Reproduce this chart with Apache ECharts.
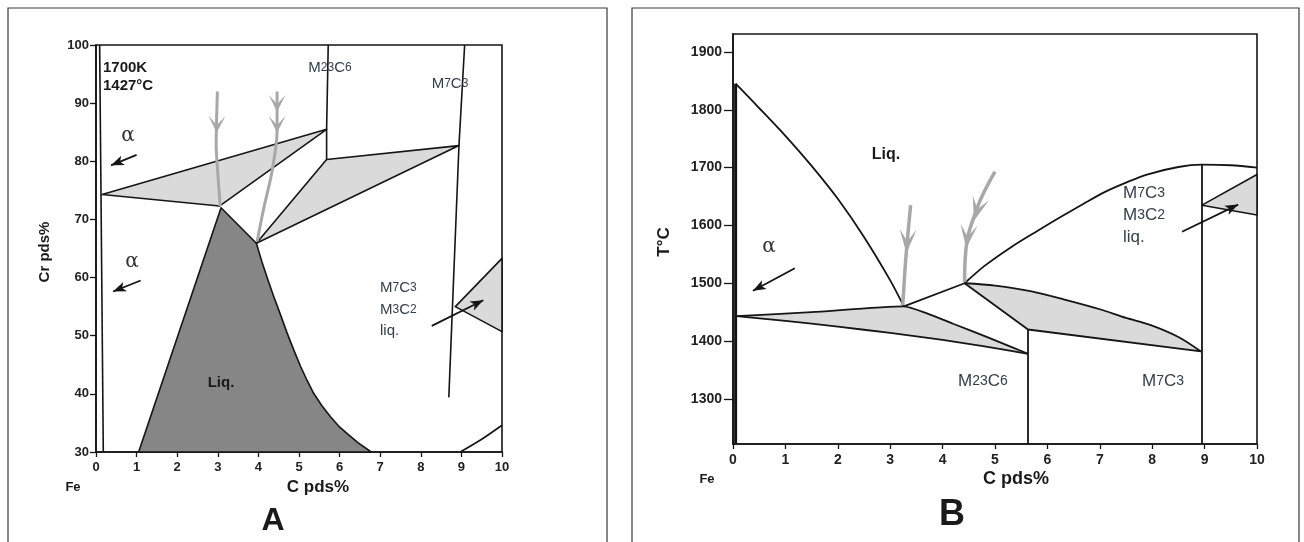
<!DOCTYPE html>
<html><head><meta charset="utf-8">
<script src="https://cdn.jsdelivr.net/npm/echarts@6/dist/echarts.min.js"></script>
<style>html,body{margin:0;padding:0;background:#fff}#c{width:1304px;height:542px}</style>
</head><body><div id="c"></div>
<script>
// ---------- Panel A (C pds% vs Cr pds%, 1700K) ----------
const xTicks = [0,1,2,3,4,5,6,7,8,9,10];
const aYTicks = [30,40,50,60,70,80,90,100];
const aAlphaLine = [[0.09,100],[0.18,30]];
const aTri1 = [[0.15,74.3],[5.68,85.5],[3.04,72.3]];
const aM23C6Line = [[5.72,100],[5.68,85.5],[5.68,80.3]];
const aTri2 = [[5.68,80.3],[8.94,82.7],[3.95,65.9]];
const aM7C3Line = [[9.08,100],[8.94,82.7],[8.69,39.4]];
const aLiq = [[3.08,72.0],[3.95,65.9],[4.10,62.4],[4.24,59.5],[4.38,56.7],[4.55,53.5],[4.71,50.4],[4.88,47.4],[5.04,44.7],[5.20,42.3],[5.36,40.1],[5.56,38.0],[5.77,36.1],[5.97,34.5],[6.18,33.2],[6.45,31.6],[6.78,30.0],[1.05,30.0]];
const aRightTri = [[8.85,55.0],[10,63.3],[10,50.7]];
const aRightCurve = [[8.97,30],[9.5,32.2],[10,34.6]];
const aGrayArrow1 = [[2.99,92],[2.97,87],[2.96,83],[3.0,78],[3.06,72.3]];
const aGrayArrow1Heads = [[[2.97,84.9],[2.98,88]]];
const aGrayArrow2 = [[4.46,92],[4.46,85.4],[4.40,81],[4.30,77],[4.14,72.2],[3.97,66.2]];
const aGrayArrow2Heads = [[[4.46,88.5],[4.46,91.5]],[[4.46,84.9],[4.46,88]]];
const aBlackArrows = [[[1.0,81.1],[0.37,79.3]],[[1.1,59.5],[0.42,57.6]],[[8.27,51.7],[9.54,56.1]]];

// ---------- Panel B (C pds% vs T°C) ----------
const bYTicks = [1300,1400,1500,1600,1700,1800,1900];
const bAlphaLine = [[0.05,1222],[0.05,1845]];
const bLiqLeft = [[0.05,1845],[0.5,1803],[1.0,1755],[1.5,1703],[2.0,1646],[2.5,1580],[3.0,1505],[3.26,1460]];
const bEutLink = [[3.26,1460],[4.42,1500]];
const bLiqRight = [[4.42,1500],[4.8,1530],[5.3,1562],[5.8,1590],[6.3,1617],[6.7,1638],[7.1,1658],[7.5,1674],[7.9,1688],[8.5,1701],[8.95,1705],[9.5,1704],[10,1700]];
const bLens1Upper = [[0.07,1443],[1.5,1450],[3.26,1460],[3.7,1448],[4.2,1430],[4.9,1405],[5.63,1378]];
const bLens1Lower = [[0.07,1443],[1.0,1435],[2.0,1425],[3.0,1414],[4.0,1402],[4.8,1391],[5.63,1378]];
const bLens2Upper = [[4.42,1500],[5.0,1496],[5.7,1486],[6.4,1470],[7.0,1455],[7.5,1440],[7.96,1428],[8.5,1407],[8.93,1382]];
const bLens2Lower = [[4.42,1500],[5.63,1420],[8.93,1382]];
const bVert1 = [[5.63,1222],[5.63,1420]];
const bVert2 = [[8.95,1222],[8.95,1705]];
const bRightTri = [[8.95,1635],[10,1688],[10,1618]];
const bGrayArrow1 = [[3.39,1635],[3.3,1545],[3.24,1462]];
const bGrayArrow1Heads = [[[3.31,1552],[3.34,1592]]];
const bGrayArrow2 = [[5.0,1693],[4.75,1650],[4.6,1615],[4.48,1580],[4.43,1540],[4.42,1502]];
const bGrayArrow2Heads = [[[4.6,1608],[4.72,1645]],[[4.45,1560],[4.5,1598]]];
const bBlackArrows = [[[1.18,1526],[0.38,1487]],[[8.57,1589],[9.64,1636]]];

const INK = '#151515', LIGHT = '#dadada', DARK = '#868686', GRAYARROW = '#a8a8a8';

function lineS(data, g, width, color, smooth) {
  return {type:'line', xAxisIndex:g, yAxisIndex:g, data, symbol:'none', showSymbol:false, silent:true,
    smooth: smooth || false, lineStyle:{color: color || INK, width: width || 1.6}, z:5, clip:false, animation:false};
}
function polyS(points, g, fill, stroke, z) {
  return {type:'custom', xAxisIndex:g, yAxisIndex:g, data: points, clip:false, silent:true, z: z || 3, animation:false,
    renderItem(params, api) {
      if (params.dataIndex !== 0) return null;
      const pts = points.map(p => api.coord(p));
      return {type:'polygon', shape:{points:pts}, style:{fill, stroke: stroke || 'none', lineWidth:1.6, lineJoin:'round'}};
    }};
}
function headPoly(tip, back, w, L, notch) {
  const dx = back[0]-tip[0], dy = back[1]-tip[1];
  const len = Math.hypot(dx,dy) || 1;
  const ux = dx/len, uy = dy/len, px = -uy, py = ux;
  return [tip,
    [tip[0]+ux*L+px*w/2, tip[1]+uy*L+py*w/2],
    [tip[0]+ux*L*notch, tip[1]+uy*L*notch],
    [tip[0]+ux*L-px*w/2, tip[1]+uy*L-py*w/2]];
}
function headsS(heads, g, color, w, L, notch) {
  return {type:'custom', xAxisIndex:g, yAxisIndex:g, data: heads.map(h => h[0]), clip:false, silent:true, z:7, animation:false,
    renderItem(params, api) {
      const h = heads[params.dataIndex];
      const tip = api.coord(h[0]), back = api.coord(h[1]);
      return {type:'polygon', shape:{points: headPoly(tip, back, w, L, notch)}, style:{fill: color}};
    }};
}
function blackArrowS(arrows, g) {
  return {type:'custom', xAxisIndex:g, yAxisIndex:g, data: arrows.map(a => a[1]), clip:false, silent:true, z:8, animation:false,
    renderItem(params, api) {
      const a = arrows[params.dataIndex];
      const s = api.coord(a[0]), t = api.coord(a[1]);
      return {type:'group', children:[
        {type:'line', shape:{x1:s[0], y1:s[1], x2:t[0], y2:t[1]}, style:{stroke:INK, lineWidth:1.8}},
        {type:'polygon', shape:{points: headPoly(t, s, 10, 13, 0.75)}, style:{fill:INK}}
      ]};
    }};
}

const axisLine = {show:true, onZero:false, lineStyle:{color:INK, width:1.6}};
const tick = (len, vals) => ({show:true, inside:false, length:len, customValues:vals, lineStyle:{color:INK, width:1.3}});
const lbl = (size, margin, vals) => ({fontFamily:'Liberation Sans, Arial, sans-serif', fontWeight:'bold', fontSize:size, color:'#222', margin, customValues:vals, formatter: v => String(v)});

const option = {
  animation:false,
  backgroundColor:'#fff',
  grid:[
    {left:96, top:45, width:406, height:407, show:true, borderColor:INK, borderWidth:1.6, backgroundColor:'transparent'},
    {left:733, top:34, width:524, height:410, show:true, borderColor:INK, borderWidth:1.6, backgroundColor:'transparent'}
  ],
  xAxis:[
    {type:'value', gridIndex:0, min:0, max:10, interval:1, axisLine, splitLine:{show:false}, axisTick:tick(5,xTicks), axisLabel:lbl(13,9,xTicks)},
    {type:'value', gridIndex:1, min:0, max:10, interval:1, axisLine, splitLine:{show:false}, axisTick:tick(5,xTicks), axisLabel:lbl(14,9,xTicks)}
  ],
  yAxis:[
    {type:'value', gridIndex:0, min:30, max:100, interval:10, axisLine, splitLine:{show:false}, axisTick:tick(6,aYTicks), axisLabel:lbl(13,7,aYTicks)},
    {type:'value', gridIndex:1, min:1222, max:1931, axisLine, splitLine:{show:false}, axisTick:tick(9,bYTicks), axisLabel:lbl(14,11,bYTicks)}
  ],
  series:[
    // Panel A
    polyS(aLiq, 0, DARK, INK, 2),
    polyS(aTri1, 0, LIGHT, INK, 3),
    polyS(aTri2, 0, LIGHT, INK, 3),
    polyS(aRightTri, 0, LIGHT, INK, 3),
    lineS(aAlphaLine, 0, 1.6),
    lineS(aM23C6Line, 0, 1.6),
    lineS(aM7C3Line, 0, 1.6),
    lineS(aRightCurve, 0, 1.6, INK, 0.3),
    lineS(aGrayArrow1, 0, 3, GRAYARROW, 0.4),
    lineS(aGrayArrow2, 0, 3, GRAYARROW, 0.4),
    headsS(aGrayArrow1Heads, 0, GRAYARROW, 17, 17, 0.45),
    headsS(aGrayArrow2Heads, 0, GRAYARROW, 17, 17, 0.45),
    blackArrowS(aBlackArrows, 0),
    // Panel B
    polyS(bLens1Upper.concat(bLens1Lower.slice().reverse()), 1, LIGHT, 'none', 2),
    polyS(bLens2Upper.concat(bLens2Lower.slice().reverse()), 1, LIGHT, 'none', 2),
    polyS(bRightTri, 1, LIGHT, INK, 3),
    lineS(bAlphaLine, 1, 3),
    lineS(bLiqLeft, 1, 1.8, INK, 0.3),
    lineS(bEutLink, 1, 1.8),
    lineS(bLiqRight, 1, 1.8, INK, 0.3),
    lineS(bLens1Upper, 1, 1.8, INK, 0.2),
    lineS(bLens1Lower, 1, 1.8, INK, 0.2),
    lineS(bLens2Upper, 1, 1.8, INK, 0.3),
    lineS(bLens2Lower, 1, 1.8),
    lineS(bVert1, 1, 1.8),
    lineS(bVert2, 1, 1.8),
    lineS(bGrayArrow1, 1, 3.5, GRAYARROW, 0.3),
    lineS(bGrayArrow2, 1, 3.5, GRAYARROW, 0.4),
    headsS(bGrayArrow1Heads, 1, GRAYARROW, 17, 24, 0.5),
    headsS(bGrayArrow2Heads, 1, GRAYARROW, 17, 24, 0.5),
    blackArrowS(bBlackArrows, 1)
  ],
  graphic:[]
};

const F = 'Liberation Sans, Arial, Helvetica, sans-serif';
const LBL = '#34414a';
function txt(x, y, text, size, opts) {
  return {type:'text', x, y, silent:true, z:20, style:Object.assign({text, fontFamily:F, fontSize:size, fill:'#1a1a1a', textVerticalAlign:'middle', textAlign:'left'}, opts||{})};
}
function carbide(x, y, parts, size, align) {
  const rich = {a:{fontFamily:F, fontSize:size, fill:LBL, color:LBL}, s:{fontFamily:F, fontSize:Math.round(size*0.82), fill:LBL, color:LBL}};
  const t = parts.map((p,i) => (i%2===0 ? '{a|'+p+'}' : '{s|'+p+'}')).join('');
  return {type:'text', x, y, silent:true, z:20, style:{text:t, rich, textVerticalAlign:'middle', textAlign:align||'left', fontFamily:F, fontSize:size, fill:LBL}};
}
option.graphic = [
  {type:'polyline', silent:true, shape:{points:[[8,542],[8,8],[607,8],[607,542]]}, style:{stroke:'#3a3a3a', lineWidth:1.2, fill:'none'}},
  {type:'polyline', silent:true, shape:{points:[[632,542],[632,8],[1299,8],[1299,542]]}, style:{stroke:'#3a3a3a', lineWidth:1.2, fill:'none'}},
  // Panel A texts
  txt(103, 68, '1700K', 15, {fontWeight:'bold'}),
  txt(103, 86, '1427°C', 15, {fontWeight:'bold'}),
  carbide(330, 68, ['M','23','C','6'], 15, 'center'),
  carbide(450, 84, ['M','7','C','3'], 15, 'center'),
  txt(221, 383, 'Liq.', 15, {fontWeight:'bold', textAlign:'center'}),
  carbide(380, 288, ['M','7','C','3'], 15, 'left'),
  carbide(380, 310, ['M','3','C','2'], 15, 'left'),
  txt(380, 331, 'liq.', 15, {fill:LBL}),
  txt(128, 136, 'α', 20, {fontFamily:'DejaVu Serif, serif', fill:'#333', textAlign:'center'}),
  txt(132, 262, 'α', 20, {fontFamily:'DejaVu Serif, serif', fill:'#333', textAlign:'center'}),
  txt(73, 487, 'Fe', 13, {fontWeight:'bold', textAlign:'center'}),
  txt(318, 487, 'C pds%', 17, {fontWeight:'bold', textAlign:'center'}),
  txt(273, 521, 'A', 32, {fontWeight:'bold', textAlign:'center'}),
  {type:'text', x:45, y:252, rotation:Math.PI/2, silent:true, z:20, style:{text:'Cr pds%', fontFamily:F, fontSize:15, fontWeight:'bold', fill:'#1a1a1a', textAlign:'center', textVerticalAlign:'middle'}},
  // Panel B texts
  txt(886, 155, 'Liq.', 16, {fontWeight:'bold', textAlign:'center'}),
  carbide(983, 381, ['M','23','C','6'], 17, 'center'),
  carbide(1163, 381, ['M','7','C','3'], 17, 'center'),
  carbide(1123, 193, ['M','7','C','3'], 17, 'left'),
  carbide(1123, 215, ['M','3','C','2'], 17, 'left'),
  txt(1123, 237, 'liq.', 17, {fill:LBL}),
  txt(769, 247, 'α', 20, {fontFamily:'DejaVu Serif, serif', fill:'#333', textAlign:'center'}),
  txt(707, 479, 'Fe', 13, {fontWeight:'bold', textAlign:'center'}),
  txt(1016, 479, 'C pds%', 18, {fontWeight:'bold', textAlign:'center'}),
  txt(952, 515, 'B', 36, {fontWeight:'bold', textAlign:'center'}),
  {type:'text', x:664, y:242, rotation:Math.PI/2, silent:true, z:20, style:{text:'T°C', fontFamily:F, fontSize:17, fontWeight:'bold', fill:'#1a1a1a', textAlign:'center', textVerticalAlign:'middle'}}
];

const chart = echarts.init(document.getElementById('c'), null, {renderer:'canvas', width:1304, height:542});
chart.setOption(option);
</script></body></html>
